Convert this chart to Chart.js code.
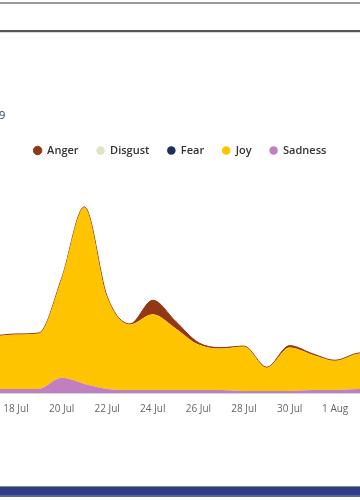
<!DOCTYPE html>
<html>
<head>
<meta charset="utf-8">
<script src="https://cdn.jsdelivr.net/npm/chart.js@4.4.1/dist/chart.umd.min.js"></script>
<style>
  html, body { margin: 0; padding: 0; background: #fff; }
  body { width: 360px; height: 500px; position: relative; overflow: hidden; font-family: 'Open Sans', sans-serif; }
  .topline { position: absolute; left: 0; right: 0; top: 2px; height: 2px; background: #9a9a9a; }
  .rule { position: absolute; left: 0; right: 0; top: 30px; height: 2px; background: #555; border-bottom: 1px solid #d8d8d8; }
  .sub { position: absolute; left: -1px; top: 107px; font-size: 11px; color: #3a4656; }
  .wrap { position: absolute; left: 0; top: 127px; width: 360px; height: 290px; }
  .foot1 { position: absolute; left: 0; right: 0; top: 486px; height: 1px; background: #8a8a8a; }
  .foot2 { position: absolute; left: 0; right: 0; top: 487px; height: 8px; background: #2f3d89; }
  .foot3 { position: absolute; left: 0; right: 0; top: 495px; height: 2px; background: #5363ac; }
</style>
</head>
<body>
<div class="topline"></div>
<div class="rule"></div>
<div class="sub">9</div>
<div class="wrap"><canvas id="chart"></canvas></div>
<div class="foot1"></div>
<div class="foot2"></div>
<div class="foot3"></div>
<script>
// one point per day, 16 Jul .. 3 Aug
const dates = ['16 Jul', '17 Jul', '18 Jul', '19 Jul', '20 Jul', '21 Jul', '22 Jul', '23 Jul', '24 Jul', '25 Jul',
  '26 Jul', '27 Jul', '28 Jul', '29 Jul', '30 Jul', '31 Jul', '1 Aug', '2 Aug', '3 Aug'];

const sadness = [4, 4, 4, 4, 15, 9, 4, 3, 3, 3, 3, 3, 2, 2, 2, 3, 3, 4, 4];
const joy     = [50, 52, 54, 55, 98, 175, 91, 65, 75, 61, 45, 41, 44, 23, 43, 35, 29, 35, 36];
const fear    = [0, 0, 0, 0, 0, 0, 0, 0, 0, 0, 0, 0, 0, 0, 0, 0, 0, 0, 0];
const disgust = [0, 0, 0, 0, 0, 0, 0, 0, 0, 0, 0, 0, 0, 0, 0, 0, 0, 0, 0];
const anger   = [0.5, 0.5, 0.5, 0.5, 0.5, 0.5, 0.5, 0.5, 14, 7, 2, 1, 0.5, 0.5, 2, 1, 0.5, 0.5, 0.5];

const Y_MAX = 225;
// visible window (day index): the chart is cropped on both sides
const X_MIN = 1.298;
const X_MAX = 17.088;

const series = [
  { label: 'Sadness', data: sadness, color: '#c27fbf', fill: 'origin' },
  { label: 'Joy',     data: joy,     color: '#ffc400', fill: '-1' },
  { label: 'Fear',    data: fear,    color: '#1b2f5a', fill: '-1' },
  { label: 'Disgust', data: disgust, color: '#dde6c3', fill: '-1' },
  { label: 'Anger',   data: anger,   color: '#923815', fill: '-1' }
];

new Chart(document.getElementById('chart'), {
  type: 'line',
  data: {
    datasets: series.map(s => ({
      label: s.label,
      data: s.data.map((v, i) => ({ x: i, y: v })),
      borderColor: s.color,
      backgroundColor: s.color,
      borderWidth: s.label === 'Anger' ? 1 : 0,
      pointRadius: 0,
      pointHoverRadius: 0,
      fill: s.fill,
      cubicInterpolationMode: 'monotone'
    }))
  },
  options: {
    responsive: true,
    maintainAspectRatio: false,
    animation: false,
    layout: { padding: 0 },
    plugins: {
      legend: {
        reverse: true,
        labels: {
          usePointStyle: true,
          pointStyle: 'circle',
          boxWidth: 8,
          boxHeight: 6,
          padding: 18,
          color: '#333333',
          font: { family: "'Open Sans'", size: 11, weight: '600' }
        }
      },
      tooltip: { enabled: false }
    },
    scales: {
      x: {
        type: 'linear',
        min: X_MIN,
        max: X_MAX,
        grid: { display: false },
        border: { color: '#ccd6eb', width: 1 },
        ticks: {
          stepSize: 2,
          includeBounds: false,
          maxRotation: 0,
          autoSkip: false,
          padding: 2,
          color: '#666666',
          font: { family: "'Open Sans'", size: 10 },
          callback: v => dates[v]
        },
        // plot runs edge to edge, no room kept for the end labels
        afterFit: scale => { scale.paddingLeft = 0; scale.paddingRight = 0; }
      },
      y: {
        display: false,
        stacked: true,
        min: 0,
        max: Y_MAX
      }
    }
  }
});
</script>
</body>
</html>
